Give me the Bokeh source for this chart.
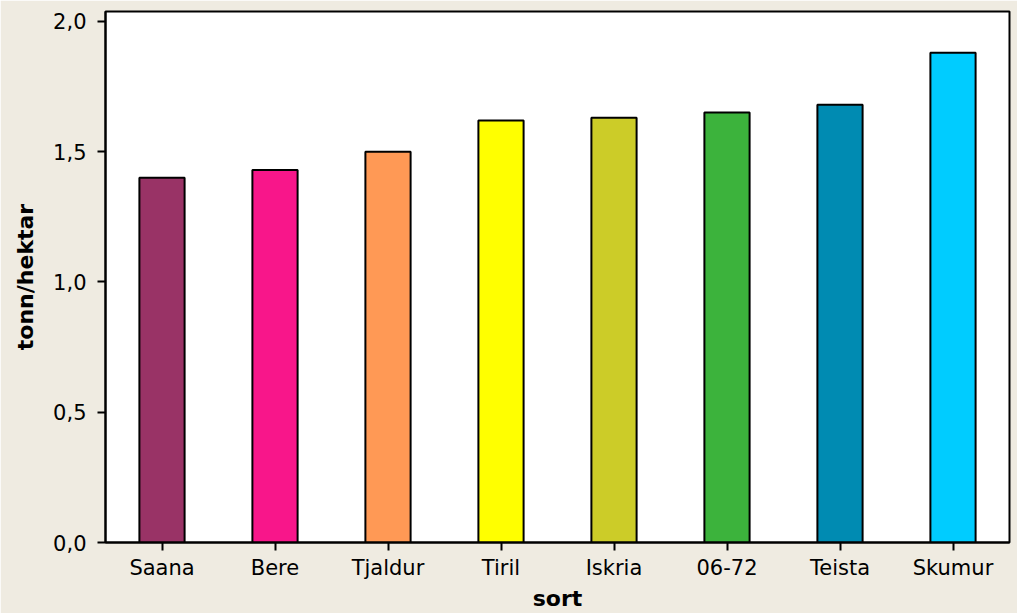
from bokeh.plotting import figure
from bokeh.models import ColumnDataSource, FactorRange, Range1d, FixedTicker, CustomJSTickFormatter
from bokeh.embed import file_html
from bokeh.resources import INLINE

sorts = ["Saana", "Bere", "Tjaldur", "Tiril", "Iskria", "06-72", "Teista", "Skumur"]
yields = [1.40, 1.43, 1.50, 1.62, 1.63, 1.65, 1.68, 1.88]
colors = ["#993366", "#F8168A", "#FF9955", "#FFFF00", "#CCCC28", "#3CB33C", "#008BB2", "#00CCFF"]
y_ticks = [0.0, 0.5, 1.0, 1.5, 2.0]

src = ColumnDataSource(dict(sort=sorts, val=yields, color=colors))

p = figure(
    x_range=FactorRange(*sorts, range_padding=0),
    y_range=Range1d(0, 2.038),
    width=1017, height=613,
    output_backend="svg", toolbar_location=None,
    min_border_left=105, min_border_right=8, min_border_top=11, min_border_bottom=71,
)
p.vbar(x="sort", top="val", width=0.4, bottom=0, source=src,
       fill_color="color", line_color="black", line_width=2)

p.background_fill_color = "white"
p.border_fill_color = "#EFEBE1"
p.outline_line_color = "black"
p.outline_line_width = 2
p.xgrid.grid_line_color = None
p.ygrid.grid_line_color = None

font = "DejaVu Sans"
for ax in (p.xaxis[0], p.yaxis[0]):
    ax.axis_line_color = "black"
    ax.axis_line_width = 2
    ax.major_tick_line_color = "black"
    ax.major_tick_line_width = 2
    ax.major_tick_out = 8
    ax.major_tick_in = 0
    ax.minor_tick_line_color = None
    ax.major_label_text_font = font
    ax.major_label_text_font_size = "21px"
    ax.major_label_text_color = "black"
    ax.axis_label_text_font = font
    ax.axis_label_text_font_size = "22px"
    ax.axis_label_text_font_style = "bold"
    ax.axis_label_text_color = "black"

p.xaxis.axis_label = "sort"
p.xaxis.major_label_standoff = 5
p.xaxis.axis_label_standoff = 3
p.yaxis.axis_label = "tonn/hektar"
p.yaxis.major_label_standoff = 11
p.yaxis.axis_label_standoff = 12
p.yaxis.ticker = FixedTicker(ticks=y_ticks)
p.yaxis.formatter = CustomJSTickFormatter(code="return tick.toFixed(1).replace('.', ',');")

open("out.html", "w").write(file_html(p, INLINE))
